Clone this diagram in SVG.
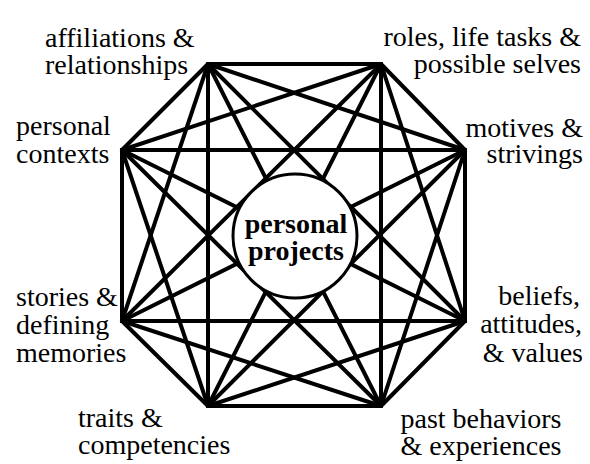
<svg xmlns="http://www.w3.org/2000/svg" width="590" height="464" viewBox="0 0 590 464">
<style>
.lbl{font-family:"Liberation Serif","Times New Roman","Nimbus Roman","DejaVu Serif",serif;font-size:28px;font-weight:normal;fill:#000}
.ctr{font-family:"Liberation Serif","Times New Roman",serif;font-size:28px;font-weight:bold;fill:#000;text-anchor:middle}
.e{text-anchor:end}
#connectors line{stroke:#000;stroke-width:4;stroke-linecap:round}
</style>
<rect width="590" height="464" fill="#fff"/>
<g id="connectors">
<line x1="208" y1="64" x2="381" y2="64"/>
<line x1="208" y1="64" x2="465" y2="150"/>
<line x1="208" y1="64" x2="465" y2="321"/>
<line x1="208" y1="64" x2="381" y2="406"/>
<line x1="208" y1="64" x2="208" y2="406"/>
<line x1="208" y1="64" x2="122" y2="321"/>
<line x1="208" y1="64" x2="122" y2="150"/>
<line x1="381" y1="64" x2="465" y2="150"/>
<line x1="381" y1="64" x2="465" y2="321"/>
<line x1="381" y1="64" x2="381" y2="406"/>
<line x1="381" y1="64" x2="208" y2="406"/>
<line x1="381" y1="64" x2="122" y2="321"/>
<line x1="381" y1="64" x2="122" y2="150"/>
<line x1="465" y1="150" x2="465" y2="321"/>
<line x1="465" y1="150" x2="381" y2="406"/>
<line x1="465" y1="150" x2="208" y2="406"/>
<line x1="465" y1="150" x2="122" y2="321"/>
<line x1="465" y1="150" x2="122" y2="150"/>
<line x1="465" y1="321" x2="381" y2="406"/>
<line x1="465" y1="321" x2="208" y2="406"/>
<line x1="465" y1="321" x2="122" y2="321"/>
<line x1="465" y1="321" x2="122" y2="150"/>
<line x1="381" y1="406" x2="208" y2="406"/>
<line x1="381" y1="406" x2="122" y2="321"/>
<line x1="381" y1="406" x2="122" y2="150"/>
<line x1="208" y1="406" x2="122" y2="321"/>
<line x1="208" y1="406" x2="122" y2="150"/>
<line x1="122" y1="321" x2="122" y2="150"/>
</g>
<g id="personal-projects">
<circle cx="295" cy="236" r="62" fill="#fff" stroke="#000" stroke-width="3"/>
<text class="ctr" x="296" y="233">personal</text>
<text class="ctr" x="296" y="260">projects</text>
</g>
<g id="affiliations">
<text class="lbl" x="45" y="47">affiliations &amp;</text>
<text class="lbl" x="45" y="74">relationships</text>
</g>
<g id="roles">
<text class="lbl e" x="581" y="46">roles, life tasks &amp;</text>
<text class="lbl e" x="581" y="73">possible selves</text>
</g>
<g id="contexts">
<text class="lbl" x="16" y="135">personal</text>
<text class="lbl" x="16" y="163">contexts</text>
</g>
<g id="motives">
<text class="lbl e" x="583" y="137">motives &amp;</text>
<text class="lbl e" x="583" y="163">strivings</text>
</g>
<g id="stories">
<text class="lbl" x="16" y="306">stories &amp;</text>
<text class="lbl" x="16" y="334">defining</text>
<text class="lbl" x="16" y="362">memories</text>
</g>
<g id="beliefs">
<text class="lbl e" x="580" y="305">beliefs,</text>
<text class="lbl e" x="582" y="333">attitudes,</text>
<text class="lbl e" x="583" y="362">&amp; values</text>
</g>
<g id="traits">
<text class="lbl" x="78" y="427">traits &amp;</text>
<text class="lbl" x="78" y="454">competencies</text>
</g>
<g id="past-behaviors">
<text class="lbl" x="481" y="428" text-anchor="middle">past behaviors</text>
<text class="lbl" x="481" y="455" text-anchor="middle">&amp; experiences</text>
</g>
</svg>
